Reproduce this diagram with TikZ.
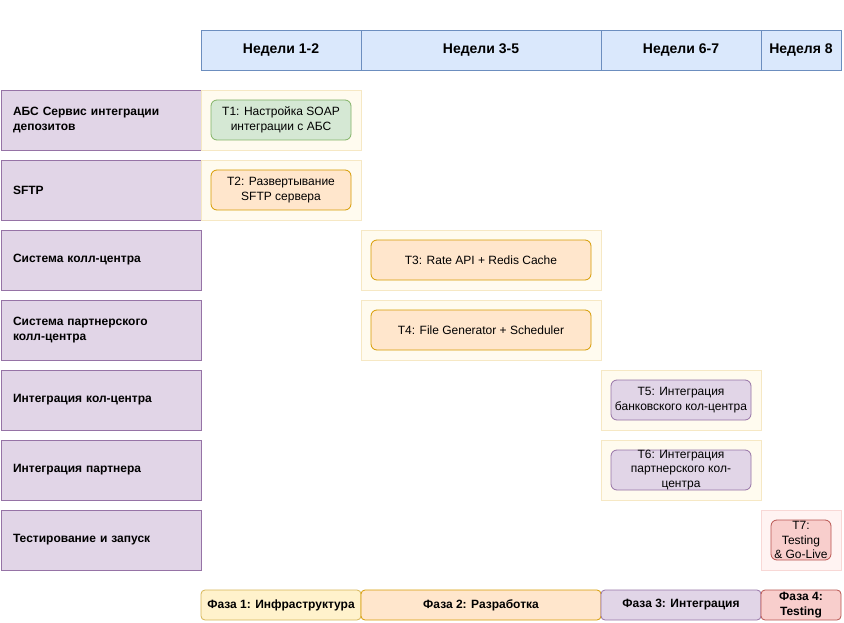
\documentclass[tikz,border=0pt]{standalone}
\usepackage{fontspec}
\setmainfont{Liberation Sans}
\definecolor{hdrfill}{HTML}{DAE8FC}
\definecolor{hdrline}{HTML}{6C8EBF}
\definecolor{lanefill}{HTML}{E1D5E7}
\definecolor{laneline}{HTML}{9673A6}
\definecolor{cellfill}{HTML}{FFFBEF}
\definecolor{cellline}{HTML}{F6E8C4}
\definecolor{redcellfill}{HTML}{FFF3F2}
\definecolor{redcellline}{HTML}{F8D8D6}
\definecolor{greenfill}{HTML}{D5E8D4}
\definecolor{greenline}{HTML}{82B366}
\definecolor{orangefill}{HTML}{FFE6CC}
\definecolor{orangeline}{HTML}{D79B00}
\definecolor{yellowfill}{HTML}{FFF2CC}
\definecolor{yellowline}{HTML}{D6B656}
\definecolor{redfill}{HTML}{F8CECC}
\definecolor{redline}{HTML}{B85450}
\tikzset{
 hdr/.style={draw=hdrline, fill=hdrfill, line width=0.8pt, minimum height=40pt,
  inner sep=0pt, font=\fontsize{14}{16}\selectfont\bfseries},
 lane/.style={draw=laneline, fill=lanefill, line width=0.8pt, minimum width=200pt,
  minimum height=60pt, text width=176pt, inner xsep=12pt, align=left,
  font=\fontsize{12}{15}\selectfont\bfseries},
 cell/.style={draw=cellline, fill=cellfill, line width=0.8pt, minimum height=60pt, inner sep=0pt},
 redcell/.style={cell, draw=redcellline, fill=redcellfill},
 task/.style={rounded corners=6pt, line width=0.8pt, minimum height=40pt, inner sep=0pt,
  align=center, font=\fontsize{12}{14.5}\selectfont},
 greentask/.style={task, draw=greenline, fill=greenfill},
 orangetask/.style={task, draw=orangeline, fill=orangefill},
 purpletask/.style={task, draw=laneline, fill=lanefill},
 redtask/.style={task, draw=redline, fill=redfill},
 phase/.style={rounded corners=4pt, line width=0.8pt, minimum height=30pt, inner sep=0pt,
  align=center, font=\fontsize{12}{15}\selectfont\bfseries},
}

\begin{document}
\begin{tikzpicture}[x=1pt, y=-1pt]
    \useasboundingbox (0,0) rectangle (844,623);
    % timeline header
    \node [hdr, minimum width=160pt] (w12) at (281,50) {Недели 1-2};
    \node [hdr, minimum width=240pt] (w35) at (481,50) {Недели 3-5};
    \node [hdr, minimum width=160pt] (w67) at (681,50) {Недели 6-7};
    \node [hdr, minimum width=80pt] (w8) at (801,50) {Неделя 8};

    % lanes
    \node [lane] (abs) at (101,120) {АБС Сервис интеграции\\депозитов};
    \node [lane] (sftp) at (101,190) {SFTP};
    \node [lane] (call) at (101,260) {Система колл-центра};
    \node [lane] (pcall) at (101,330) {Система партнерского\\колл-центра};
    \node [lane] (icall) at (101,400) {Интеграция кол-центра};
    \node [lane] (ipart) at (101,470) {Интеграция партнера};
    \node [lane] (test) at (101,540) {Тестирование и запуск};

    % cells
    \node [cell, minimum width=160pt] (c1) at (281,120) {};
    \node [cell, minimum width=160pt] (c2) at (281,190) {};
    \node [cell, minimum width=240pt] (c3) at (481,260) {};
    \node [cell, minimum width=240pt] (c4) at (481,330) {};
    \node [cell, minimum width=160pt] (c5) at (681,400) {};
    \node [cell, minimum width=160pt] (c6) at (681,470) {};
    \node [redcell, minimum width=80pt] (c7) at (801,540) {};

    % tasks
    \node [greentask, minimum width=140pt] (t1) at (c1) {T1: Настройка SOAP\\интеграции с АБС};
    \node [orangetask, minimum width=140pt] (t2) at (c2) {T2: Развертывание\\SFTP сервера};
    \node [orangetask, minimum width=220pt] (t3) at (c3) {T3: Rate API + Redis Cache};
    \node [orangetask, minimum width=220pt] (t4) at (c4) {T4: File Generator + Scheduler};
    \node [purpletask, minimum width=140pt] (t5) at (c5) {T5: Интеграция\\банковского кол-центра};
    \node [purpletask, minimum width=140pt] (t6) at (c6) {T6: Интеграция\\партнерского кол-\\центра};
    \node [redtask, minimum width=60pt] (t7) at (c7) {T7:\\Testing\\\& Go-Live};

    % phases
    \node [phase, draw=yellowline, fill=yellowfill, minimum width=160pt] (p1) at (281,605) {Фаза 1: Инфраструктура};
    \node [phase, draw=orangeline, fill=orangefill, minimum width=240pt] (p2) at (481,605) {Фаза 2: Разработка};
    \node [phase, draw=laneline, fill=lanefill, minimum width=160pt] (p3) at (681,605) {Фаза 3: Интеграция};
    \node [phase, draw=redline, fill=redfill, minimum width=80pt] (p4) at (801,605) {Фаза 4:\\Testing};
\end{tikzpicture}
\end{document}
